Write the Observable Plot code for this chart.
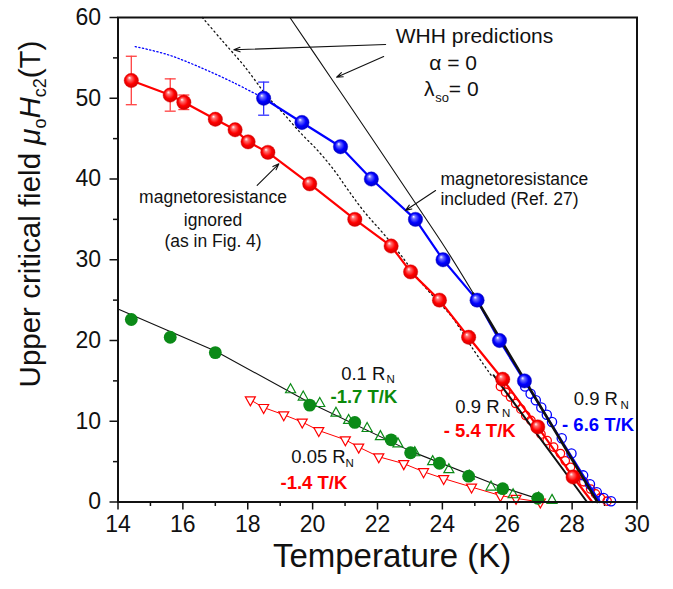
<!DOCTYPE html>
<html><head><meta charset="utf-8">
<script src="https://cdn.jsdelivr.net/npm/d3@7"></script>
<script src="https://cdn.jsdelivr.net/npm/@observablehq/plot@0.6"></script>
<style>
body{margin:0;background:#fff;}
#chart svg{font-family:"Liberation Sans",Arial,Helvetica,sans-serif;}
</style></head><body><div id="chart"></div>
<script>
// ---------- data ----------
const xMajor = [14, 16, 18, 20, 22, 24, 26, 28, 30];
const xMinor = [15, 17, 19, 21, 23, 25, 27, 29];
const yMajor = [0, 10, 20, 30, 40, 50, 60];
const yMinor = [5, 15, 25, 35, 45, 55];

// magnetoresistance ignored (red balls)
const redBallT = [14.41, 15.61, 16.03, 17.0, 17.61, 18.01, 18.62, 19.91, 21.30, 22.42, 23.02, 23.91, 24.81, 25.86, 26.94, 28.03];
const redBallB = [52.2, 50.4, 49.5, 47.4, 46.1, 44.6, 43.3, 39.4, 35.0, 31.7, 28.5, 25.0, 20.4, 15.2, 9.3, 3.1];
const redLineT = [14.41, 15.61, 16.03, 17.0, 17.61, 18.01, 18.62, 19.91, 21.30, 22.42, 23.02, 23.91, 24.81, 25.86, 26.94, 28.03, 28.62];
const redLineB = [52.2, 50.4, 49.5, 47.4, 46.1, 44.6, 43.3, 39.4, 35.0, 31.7, 28.5, 25.0, 20.4, 15.2, 9.3, 3.1, 0];
const redErrT = [14.41, 15.61, 16.03];
const redErrLo = [49.2, 48.4, 48.6];
const redErrHi = [55.2, 52.4, 50.4];

// magnetoresistance included (blue balls)
const blueBallT = [18.49, 19.67, 20.86, 21.81, 23.17, 24.02, 25.07, 25.76, 26.53];
const blueBallB = [50, 47, 44, 40, 35, 30, 25, 20, 15];
const blueLineT = [18.49, 19.67, 20.86, 21.81, 23.17, 24.02, 25.07, 25.76, 26.53, 28.85];
const blueLineB = [50, 47, 44, 40, 35, 30, 25, 20, 15, 0];
const blueErrT = [18.49];
const blueErrLo = [47.9];
const blueErrHi = [52.0];
const blueDotT = [14.53, 15.53, 16.55, 17.58, 18.4];
const blueDotB = [56.4, 55.4, 53.8, 51.9, 50.2];

// 0.9 RN open circles
const blueOpenT = [26.55, 26.72, 26.88, 27.05, 27.22, 27.38, 27.68, 27.98, 28.34, 28.55, 28.76, 28.97, 29.2];
const blueOpenB = [14.3, 13.4, 12.6, 11.7, 10.8, 9.9, 7.9, 6.0, 3.3, 2.2, 1.2, 0.5, 0.1];
const redOpenT = [25.79, 25.95, 26.1, 26.26, 26.42, 26.57, 26.73, 26.88, 27.04, 27.23, 27.43, 27.64, 27.79, 27.95, 28.15, 28.36, 28.57, 28.72, 28.87, 29.08];
const redOpenB = [14.3, 13.6, 13.0, 12.2, 11.5, 10.7, 10.1, 9.3, 8.4, 7.6, 6.8, 6.0, 5.1, 4.3, 3.3, 2.5, 1.6, 1.0, 0.5, 0.1];

// 0.1 RN (green) and 0.05 RN (red triangles)
const greenBallT = [14.41, 15.61, 17.0, 19.91, 21.30, 22.42, 23.02, 23.91, 24.81, 25.86, 26.94];
const greenBallB = [22.6, 20.4, 18.5, 12.0, 9.85, 7.7, 6.1, 4.8, 3.2, 1.65, 0.46];
const greenTriT = [19.32, 19.71, 20.22, 20.72, 21.11, 21.68, 22.09, 22.63, 23.15, 23.70, 24.2, 24.83, 25.5, 26.18, 26.97, 27.38];
const greenTriB = [13.9, 13.0, 12.2, 11.0, 10.1, 9.1, 8.1, 7.2, 6.1, 5.0, 4.0, 3.2, 1.85, 0.9, 0.5, 0.2];
const greenFitT = [14.0, 17.0, 19.91, 23.02, 25.86, 27.1];
const greenFitB = [23.9, 18.7, 12.3, 6.3, 1.8, 0.2];
const redTriT = [18.08, 18.49, 19.11, 19.68, 20.19, 21.01, 21.42, 22.04, 22.81, 23.42, 24.04, 24.9, 25.79, 26.27, 27.02];
const redTriB = [12.65, 11.7, 10.8, 9.9, 8.85, 7.7, 6.8, 5.6, 4.75, 3.75, 2.9, 1.85, 0.8, 0.45, 0.0];

// WHH predictions and linear fits
const whhDotT = [16.6, 17.22, 17.89, 18.61, 19.08, 19.63, 20.14, 20.66, 21.1, 21.6, 22.19, 22.81, 23.22, 23.8, 24.3, 24.9, 25.5];
const whhDotB = [60, 57.1, 54.0, 50.2, 48.2, 45.7, 43.6, 41.1, 38.6, 35.9, 33.2, 30.1, 27.8, 25.1, 22.9, 19.2, 15.7];
const whhSolidT = [19.3, 20.55, 21.8, 23.12, 24.1, 25.05];
const whhSolidB = [60, 52.6, 45.2, 37.3, 31.4, 25.2];
const fitBlueT = [24.95, 28.78];
const fitBlueB = [25.8, 0];
const fitRedT = [25.58, 28.46];
const fitRedB = [15.7, 0];

// arrows [x1, y1, x2, y2]
const arrowX1 = [22.25, 22.19, 18.29, 23.79];
const arrowY1 = [56.66, 55.17, 39.2, 38.58];
const arrowX2 = [17.57, 20.74, 18.96, 22.86];
const arrowY2 = [56.0, 52.6, 41.88, 36.1];

// texts
const txtWHH = ["WHH predictions", "α = 0", "λ", "so", "= 0"];
const txtIgnored = ["magnetoresistance", "ignored", "(as in Fig. 4)"];
const txtIncluded = ["magnetoresistance", "included (Ref. 27)"];
const txtRN = ["0.1 R", "0.05 R", "0.9 R", "0.9 R", "N"];
const txtSlopes = ["-1.7 T/K", "-1.4 T/K", "- 5.4 T/K", "- 6.6 T/K"];
const xTitle = "Temperature (K)";
const yTitleParts = ["Upper critical field ", "μ", "o", "H", "c2", "(T)"];

// ---------- helpers ----------
const RED = "#ff0000", BLUE = "#0000ff", GREEN = "#0a8a0a", INK = "#111";
const triUp = {draw(c, size) { const r = Math.sqrt(size / Math.PI); c.moveTo(0, -1.2 * r); c.lineTo(r, 0.6 * r); c.lineTo(-r, 0.6 * r); c.closePath(); }};
const triDown = {draw(c, size) { const r = Math.sqrt(size / Math.PI); c.moveTo(0, 1.2 * r); c.lineTo(r, -0.6 * r); c.lineTo(-r, -0.6 * r); c.closePath(); }};
const hbar = {draw(c, size) { const r = Math.sqrt(size / Math.PI); c.moveTo(-r, 0); c.lineTo(r, 0); }};
const label = (s, x, y, o = {}) => Plot.text([s], {x, y, text: d => d, textAnchor: "start", lineAnchor: "bottom", fontSize: 18.5, fill: INK, ...o});

const plot = Plot.plot({
  width: 673, height: 589,
  marginLeft: 117.5, marginRight: 36.5, marginTop: 17, marginBottom: 87.5,
  x: {domain: [14, 30]},
  y: {domain: [0, 60]},
  style: {background: "white", overflow: "visible", fontFamily: "Liberation Sans, Arial, sans-serif"},
  marks: [
    // axes
    Plot.axisX({ticks: xMajor, tickSize: 8, tickPadding: 6, fontSize: 23, label: null, strokeWidth: 1.5, color: INK}),
    Plot.axisX({ticks: xMinor, tickSize: 4.5, tickFormat: () => "", label: null, strokeWidth: 1.5, color: INK}),
    Plot.axisY({ticks: yMajor, tickSize: 8, tickPadding: 9, fontSize: 23, label: null, strokeWidth: 1.5, color: INK}),
    Plot.axisY({ticks: yMinor, tickSize: 4.5, tickFormat: () => "", label: null, strokeWidth: 1.5, color: INK}),

    // WHH curves and fits
    Plot.line(whhDotT, {x: whhDotT, y: whhDotB, stroke: INK, strokeWidth: 1.3, strokeDasharray: "1.3,3.2", curve: "catmull-rom"}),
    Plot.line(whhSolidT, {x: whhSolidT, y: whhSolidB, stroke: INK, strokeWidth: 1.1, curve: "catmull-rom"}),
    Plot.line(blueDotT, {x: blueDotT, y: blueDotB, stroke: BLUE, strokeWidth: 1.3, strokeDasharray: "1.3,2.4", curve: "catmull-rom"}),

    // 0.05 RN red triangles line, 0.1 RN fit
    Plot.line(redTriT, {x: redTriT, y: redTriB, stroke: RED, strokeWidth: 1}),
    Plot.line(greenFitT, {x: greenFitT, y: greenFitB, stroke: INK, strokeWidth: 1.1}),

    // 0.9 RN open circles
    Plot.dot(redOpenT, {x: redOpenT, y: redOpenB, r: 4.2, stroke: RED, strokeWidth: 1.3, fill: "none"}),
    Plot.dot(blueOpenT, {x: blueOpenT, y: blueOpenB, r: 4.6, stroke: BLUE, strokeWidth: 1.3, fill: "none"}),

    // data lines
    Plot.line(redLineT, {x: redLineT, y: redLineB, stroke: RED, strokeWidth: 2.2}),
    Plot.line(blueLineT, {x: blueLineT, y: blueLineB, stroke: BLUE, strokeWidth: 2.2}),
    Plot.line(fitRedT, {x: fitRedT, y: fitRedB, stroke: INK, strokeWidth: 2}),
    Plot.line(fitBlueT, {x: fitBlueT, y: fitBlueB, stroke: INK, strokeWidth: 2.6}),

    // triangles & green balls
    Plot.dot(redTriT, {x: redTriT, y: redTriB, r: 5, symbol: triDown, stroke: RED, strokeWidth: 1.2, fill: "white"}),
    Plot.dot(greenBallT, {x: greenBallT, y: greenBallB, r: 6.4, fill: "#0b8a17", stroke: "none"}),
    Plot.dot(greenTriT, {x: greenTriT, y: greenTriB, r: 5, symbol: triUp, stroke: "#0b8a17", strokeWidth: 1.2, fill: "none"}),

    // error bars
    Plot.ruleX(redErrT, {x: redErrT, y1: redErrLo, y2: redErrHi, stroke: "#ff4040", strokeWidth: 1.3}),
    Plot.dot(redErrT, {x: redErrT, y: redErrLo, r: 5.5, symbol: hbar, stroke: "#ff4040", strokeWidth: 1.3, fill: "none"}),
    Plot.dot(redErrT, {x: redErrT, y: redErrHi, r: 5.5, symbol: hbar, stroke: "#ff4040", strokeWidth: 1.3, fill: "none"}),
    Plot.ruleX(blueErrT, {x: blueErrT, y1: blueErrLo, y2: blueErrHi, stroke: "#3030ff", strokeWidth: 1.3}),
    Plot.dot(blueErrT, {x: blueErrT, y: blueErrLo, r: 5.5, symbol: hbar, stroke: "#3030ff", strokeWidth: 1.3, fill: "none"}),
    Plot.dot(blueErrT, {x: blueErrT, y: blueErrHi, r: 5.5, symbol: hbar, stroke: "#3030ff", strokeWidth: 1.3, fill: "none"}),

    // balls
    Plot.dot(redBallT, {x: redBallT, y: redBallB, r: 7.2, fill: "url(#gRed)", stroke: "#e00000", strokeWidth: 0.4}),
    Plot.dot(blueBallT, {x: blueBallT, y: blueBallB, r: 7.2, fill: "url(#gBlue)", stroke: "#0000d0", strokeWidth: 0.4}),

    // arrows
    Plot.arrow(arrowX1, {x1: arrowX1, y1: arrowY1, x2: arrowX2, y2: arrowY2, stroke: INK, strokeWidth: 1.1, headLength: 9, headAngle: 40}),

    // annotations
    label(txtWHH[0], 24.99, 56.9, {textAnchor: "middle", fontSize: 21}),
    label(txtWHH[1], 24.33, 53.52, {textAnchor: "middle", fontSize: 21}),
    label(txtWHH[2], 23.43, 50.34, {fontSize: 21}),
    label(txtWHH[3], 23.78, 49.54, {fontSize: 13}),
    label(txtWHH[4], 24.2, 50.34, {fontSize: 21}),

    label(txtIgnored[0], 16.93, 37.0, {textAnchor: "middle", fontSize: 17.5}),
    label(txtIgnored[1], 16.93, 34.24, {textAnchor: "middle", fontSize: 17.5}),
    label(txtIgnored[2], 16.93, 31.55, {textAnchor: "middle", fontSize: 17.5}),
    label(txtIncluded[0], 23.94, 39.2, {fontSize: 17.5}),
    label(txtIncluded[1], 23.94, 36.72, {fontSize: 17.5}),

    label(txtRN[0], 20.88, 15.17),
    label(txtRN[4], 22.28, 14.7, {fontSize: 11.5}),
    label(txtSlopes[0], 20.55, 12.2, {fill: GREEN, fontWeight: "bold"}),
    label(txtRN[1], 19.34, 4.85),
    label(txtRN[4], 21.01, 4.3, {fontSize: 11.5}),
    label(txtSlopes[1], 19.01, 1.63, {fill: RED, fontWeight: "bold"}),
    label(txtRN[2], 24.4, 11.05),
    label(txtRN[4], 25.84, 10.5, {fontSize: 11.5}),
    label(txtSlopes[2], 24.04, 8.02, {fill: RED, fontWeight: "bold"}),
    label(txtRN[3], 28.05, 12.07),
    label(txtRN[4], 29.49, 11.5, {fontSize: 11.5}),
    label(txtSlopes[3], 27.69, 8.85, {fill: BLUE, fontWeight: "bold"}),

    // x title
    label(xTitle, 22.45, -8.1, {textAnchor: "middle", fontSize: 33}),

    Plot.frame({stroke: INK, strokeWidth: 2})
  ]
});

document.getElementById("chart").appendChild(plot);

// gradients for shaded balls + y-axis title with sub/italics
const svg = d3.select(plot);
const defs = svg.insert("defs", ":first-child");
function grad(id, light, mid, dark) {
  const g = defs.append("radialGradient").attr("id", id).attr("cx", 0.5).attr("cy", 0.5).attr("r", 0.55).attr("fx", 0.36).attr("fy", 0.3);
  g.append("stop").attr("offset", 0).attr("stop-color", "#ffffff");
  g.append("stop").attr("offset", 0.22).attr("stop-color", light);
  g.append("stop").attr("offset", 0.6).attr("stop-color", mid);
  g.append("stop").attr("offset", 1).attr("stop-color", dark);
}
grad("gRed", "#ff7070", "#ff0000", "#c80000");
grad("gBlue", "#7070ff", "#0000ff", "#0000b8");

const yt = svg.append("text")
  .attr("transform", "translate(40,214) rotate(-90)")
  .attr("text-anchor", "middle")
  .attr("font-size", 29.5)
  .attr("fill", INK)
  .style("font-family", "Liberation Sans, Arial, sans-serif");
yt.append("tspan").text(yTitleParts[0]);
yt.append("tspan").attr("font-style", "italic").text(yTitleParts[1]);
yt.append("tspan").attr("font-size", 18).attr("dy", 6).text(yTitleParts[2]);
yt.append("tspan").attr("font-style", "italic").attr("dy", -6).text(yTitleParts[3]);
yt.append("tspan").attr("font-size", 18).attr("dy", 6).text(yTitleParts[4]);
yt.append("tspan").attr("dy", -6).text(yTitleParts[5]);
</script></body></html>
